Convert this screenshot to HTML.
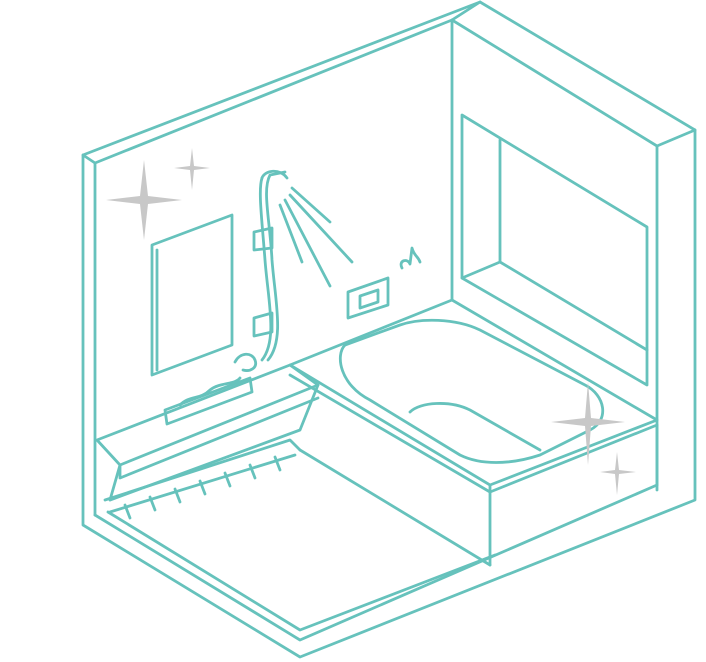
<!DOCTYPE html>
<html><head><style>html,body{margin:0;padding:0;background:#fff}svg{display:block}</style></head>
<body>
<svg width="706" height="662" viewBox="0 0 706 662" fill="none" stroke="#66c2bc" stroke-width="2.8" stroke-linejoin="round" stroke-linecap="round">
<!-- outer shell -->
<path d="M83,155 L480,2 L695,130 L695,500 L300,657 L83,525 Z"/>
<path d="M95,163 L452,20 L657,146 L657,485 M95,163 L95,515"/>
<path d="M452,20 L452,300"/>
<path d="M83,155 L95,163 M695,130 L657,146 M480,2 L452,20"/>
<!-- floor -->
<path d="M95,515 L300,640 L657,485"/>
<path d="M108,512 L300,630 L495,555"/>
<path d="M300,450 L490,565"/>
<!-- window right -->
<path d="M462,115 L647,227 L647,385 L462,278 Z"/>
<path d="M500,140 L500,262 M462,278 L500,262 L647,350"/>
<!-- mirror left -->
<path d="M152,245 L232,215 L232,345 L152,375 Z"/>
<path d="M157,250 L157,370"/>
<!-- tub -->
<path d="M290,365 L452,300 L657,420 L490,485 Z"/>
<path d="M290,375 L490,492 L657,425"/>
<path d="M490,485 L490,565 M657,425 L657,490"/>
<path d="M345,345 C335,355 340,385 370,400 L460,455 C480,465 510,465 540,455 L590,430 C610,420 605,395 585,385 L480,330 C455,318 420,318 400,325 Z"/>
<path d="M410,412 C420,402 450,400 470,410 L540,450"/>
<!-- vanity counter -->
<path d="M97,440 L290,365 L318,385 L120,465 Z"/>
<path d="M120,465 L110,500 M318,385 L300,430 L110,500"/>
<path d="M120,465 L120,478 L318,398"/>
<path d="M105,500 L290,440 L300,450"/>
<path d="M110,512 L295,455"/>
<path d="M125,505 L130,518 M150,497 L155,510 M175,489 L180,502 M200,481 L205,494 M225,473 L230,486 M250,465 L255,478 M275,457 L280,470"/>
<path d="M165,410 L250,378 L252,392 L167,424 Z"/>
<path d="M180,405 C190,395 200,400 210,390 C220,382 235,385 240,378"/>
<!-- shower -->
<path d="M268,360 C285,340 275,300 272,260 C270,220 262,190 270,175 L285,172"/>
<path d="M262,360 C278,340 268,300 265,260 C262,220 258,190 262,178"/>
<path d="M262,178 C265,170 280,168 287,178"/>
<path d="M254,232 L272,228 L272,248 L254,250 Z M254,318 L272,313 L272,332 L254,336 Z"/>
<path d="M235,362 C240,352 252,352 255,360 C258,368 250,372 243,370"/>
<path d="M292,188 L330,222 M290,195 L352,262 M285,200 L330,286 M280,205 L302,262"/>
<!-- speaker -->
<path d="M348,292 L388,278 L388,305 L348,318 Z M360,296 L378,290 L378,302 L360,308 Z"/>
<path d="M402,268 C398,260 408,258 410,264 L412,248 C414,256 418,256 420,262"/>
<!-- sparkles -->
<g fill="#c8c8c8" stroke="none">
<path d="M144,160 L148,196 L182,200 L148,204 L144,240 L140,204 L106,200 L140,196 Z"/>
<path d="M192,148 L194,166 L210,168 L194,170 L192,190 L190,170 L174,168 L190,166 Z"/>
<path d="M588,382 L591,418 L625,422 L591,426 L588,465 L585,426 L551,422 L585,418 Z"/>
<path d="M617,452 L619,470 L636,472 L619,474 L617,495 L615,474 L600,472 L615,470 Z"/>
</g>
</svg>
</body></html>
